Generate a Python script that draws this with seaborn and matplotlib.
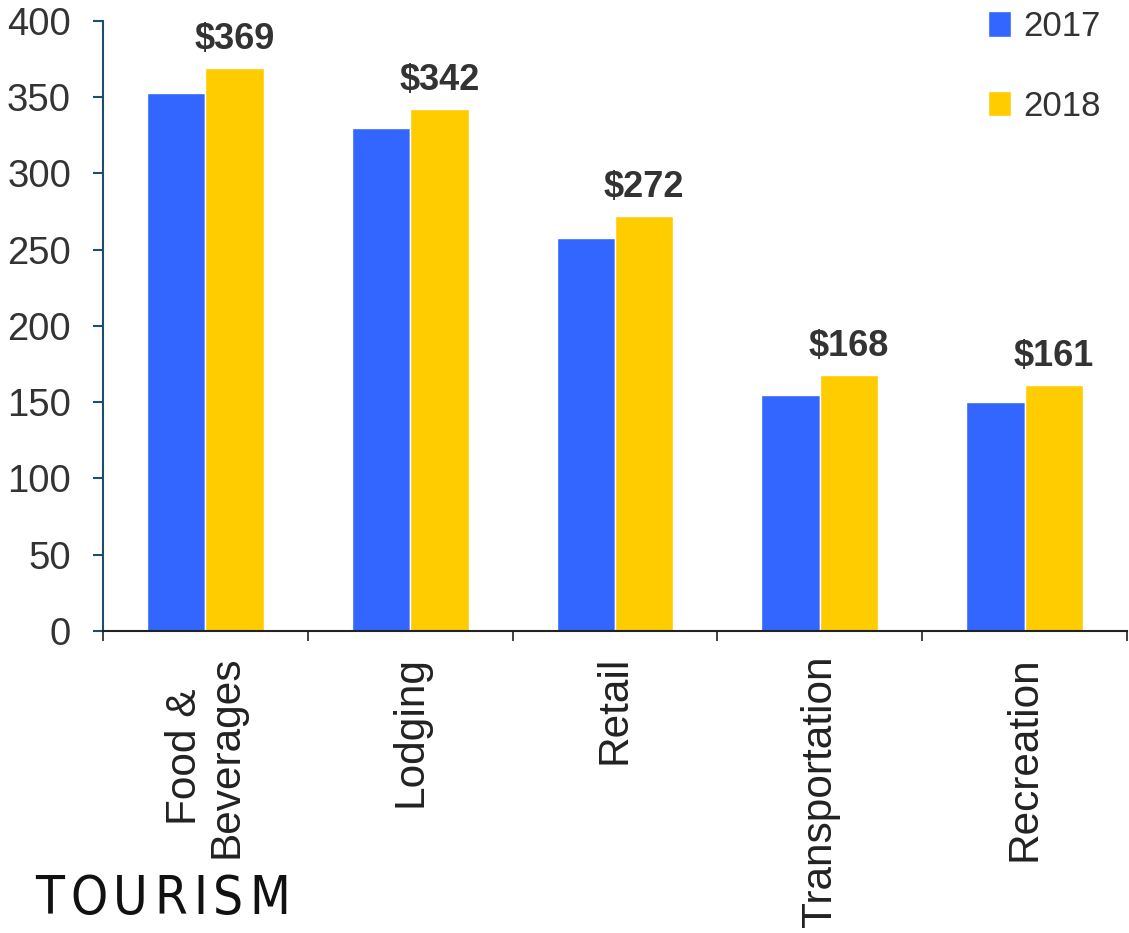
import matplotlib
matplotlib.use("Agg")
import matplotlib.pyplot as plt
import seaborn as sns
import pandas as pd

categories = ["Food &\nBeverages", "Lodging", "Retail", "Transportation", "Recreation"]
years = ["2017", "2018"]
values_2017 = [353, 330, 258, 155, 150]
values_2018 = [369, 342, 272, 168, 161]
colors = ["#3366FF", "#FFCC00"]

sns.set_theme(style="white")
plt.rcParams["font.family"] = ["Liberation Sans", "DejaVu Sans"]

df = pd.DataFrame({
    "category": categories * 2,
    "year": [years[0]] * 5 + [years[1]] * 5,
    "value": values_2017 + values_2018,
})

fig = plt.figure(figsize=(11.29, 9.33), dpi=100)
ax = fig.add_axes([0.0912, 0.3237, 0.907, 0.6538])

sns.barplot(data=df, x="category", y="value", hue="year", palette=colors,
            width=0.57, gap=0, saturation=1, ax=ax, errorbar=None)

ax.set_xlim(-0.5, 4.5)
ax.set_ylim(0, 400)
ax.set_yticks(range(0, 401, 50))
ax.set_xlabel("")
ax.set_ylabel("")

for s in ["top", "right"]:
    ax.spines[s].set_visible(False)
ax.spines["left"].set_color("#1F4E6B")
ax.spines["left"].set_linewidth(1.5)
ax.spines["bottom"].set_color("#222222")
ax.spines["bottom"].set_linewidth(1.5)

ax.tick_params(axis="y", which="major", left=True, length=7, width=1.5,
               color="#1F4E6B", labelsize=27.5, labelcolor="#333333", pad=16)
ax.set_xticks([i - 0.5 for i in range(6)], minor=True)
ax.tick_params(axis="x", which="minor", bottom=True, length=7, width=1.2, color="#222222")
ax.tick_params(axis="x", which="major", length=0, labelsize=30.5, labelcolor="#222222", pad=18)
ax.set_xticks(range(5))
ax.set_xticklabels(categories, rotation=90, ha="center", va="top", linespacing=1.05)

# data labels on 2018 bars
ax.bar_label(ax.containers[1], labels=[f"${v}" for v in values_2018], padding=8,
             fontsize=26, fontweight="bold", color="#333333")

handles, labels = ax.get_legend_handles_labels()
ax.legend(handles, labels, loc="upper right", bbox_to_anchor=(0.99, 1.008, 0, 0),
          bbox_transform=fig.transFigure, frameon=False, fontsize=25,
          labelcolor="#333333", handlelength=0.65, handleheight=0.75,
          handletextpad=0.35, labelspacing=1.35, borderaxespad=0.1)

# logo text, letters spread evenly between x=35px and x=290px
logo = "TOURISM"
renderer = fig.canvas.get_renderer()
W, H = fig.bbox.width, fig.bbox.height
letters = [fig.text(0, 0.009, ch, fontsize=38, family="DejaVu Sans",
                    fontstretch="condensed", color="#111111",
                    ha="left", va="bottom") for ch in logo]
widths = [t.get_window_extent(renderer).width for t in letters]
x0, x1 = 35.0, 290.0
gap = (x1 - x0 - sum(widths)) / (len(logo) - 1)
x = x0
for t, w in zip(letters, widths):
    t.set_x(x / W)
    x += w + gap

fig.savefig("out.png", dpi=100)
